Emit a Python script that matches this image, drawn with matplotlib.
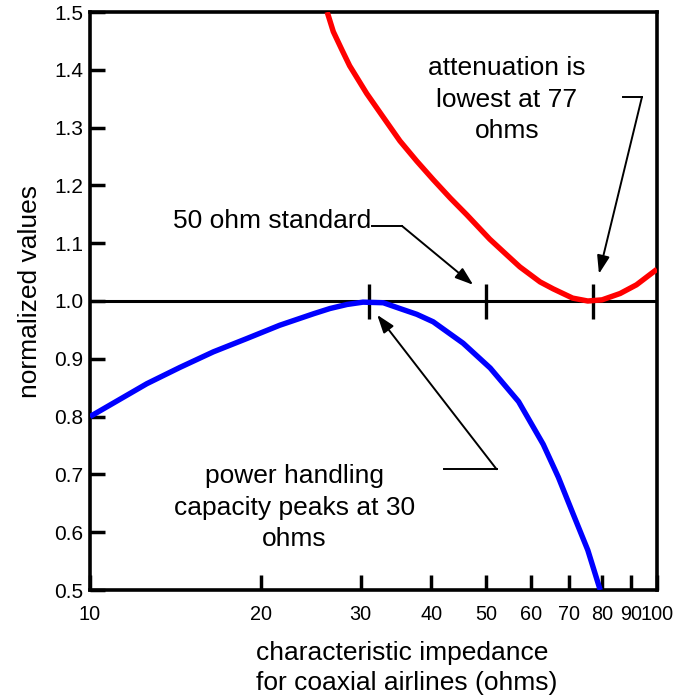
import matplotlib
matplotlib.use("Agg")
import matplotlib.pyplot as plt
from matplotlib.ticker import FixedLocator, NullLocator

plt.rcParams['font.family'] = ['Liberation Sans', 'DejaVu Sans']

# attenuation (red) and power handling (blue), normalized
red_x = [26.2, 26.86, 27.8, 28.7, 30.76, 32.9, 35.2, 37.7, 40.3, 43.2, 46.2, 50.7,
         54.3, 57.3, 62.2, 65.6, 71.0, 75.5, 80.0, 86.1, 92.0, 100.0]
red_y = [1.5, 1.466, 1.435, 1.407, 1.359, 1.318, 1.277, 1.242, 1.210, 1.178, 1.149, 1.107,
         1.080, 1.059, 1.033, 1.021, 1.005, 1.0, 1.002, 1.013, 1.028, 1.055]

blue_x = [10, 12.6, 14.4, 16.5, 18.9, 21.6, 24.8, 26.5, 28.4, 30.3, 32.9, 35.2, 37.7,
          40.3, 45.5, 50.8, 57.0, 63.0, 67.0, 71.1, 75.5, 79.4]
blue_y = [0.8, 0.857, 0.885, 0.912, 0.935, 0.958, 0.978, 0.987, 0.994, 0.998, 0.997, 0.987, 0.977,
          0.964, 0.927, 0.884, 0.826, 0.752, 0.695, 0.632, 0.569, 0.5]

mark_x = [31, 50, 77]
ref_level = 1.0

x_ticks = [10, 20, 30, 40, 50, 60, 70, 80, 90, 100]
y_ticks = [0.5, 0.6, 0.7, 0.8, 0.9, 1.0, 1.1, 1.2, 1.3, 1.4, 1.5]

fig = plt.figure(figsize=(6.79, 6.96), dpi=100)
ax = fig.add_axes([90 / 679, 1 - 590 / 696, 567 / 679, 578 / 696])

ax.axhline(ref_level, color='black', lw=2.2, zorder=2)
ax.vlines(mark_x, ref_level - 0.032, ref_level + 0.03, color='black', lw=2.4, zorder=2)
ax.plot(red_x, red_y, color='#ff0000', lw=3.9, solid_capstyle='butt',
        solid_joinstyle='round', zorder=3)
ax.plot(blue_x, blue_y, color='#0000ff', lw=3.9, solid_capstyle='butt',
        solid_joinstyle='round', zorder=3)

ax.set_xscale('log')
ax.set_xlim(10, 100)
ax.set_ylim(0.5, 1.5)
ax.xaxis.set_major_locator(FixedLocator(x_ticks))
ax.xaxis.set_minor_locator(NullLocator())
ax.set_xticklabels([str(v) for v in x_ticks])
ax.set_yticks(y_ticks)
ax.set_yticklabels([f"{v:.1f}" for v in y_ticks])
ax.tick_params(direction='in', length=11, width=2.5, labelsize=15, top=False, right=False)
ax.tick_params(axis='x', pad=11, labelsize=14.3)
ax.tick_params(axis='y', pad=5)
for s in ax.spines.values():
    s.set_linewidth(2.6)

ax.set_ylabel('normalized values', fontsize=19)
ax.yaxis.set_label_coords(-0.085, 0.517)
ax.set_xlabel('characteristic impedance\nfor coaxial airlines (ohms)', fontsize=19,
              ha='left', multialignment='left', linespacing=1.3)
ax.xaxis.set_label_coords(0.293, -0.088)

arrow = dict(arrowstyle='-|>,head_length=1.1,head_width=0.38', mutation_scale=10,
             color='black', lw=1.4, shrinkA=0, shrinkB=0)

# attenuation note
ax.text(0.735, 0.924, 'attenuation is\nlowest at 77\nohms', transform=ax.transAxes,
        ha='center', va='top', multialignment='center', fontsize=19, linespacing=1.4)
ax.plot([0.940, 0.9735], [0.853, 0.853], color='black', lw=1.4, transform=ax.transAxes)
ax.annotate('', xy=(79.0, 1.047), xytext=(0.9735, 0.853), textcoords='axes fraction',
            arrowprops=arrow)

# 50 ohm note
ax.text(0.1464, 0.626, '50 ohm standard', transform=ax.transAxes,
        ha='left', va='baseline', fontsize=19)
ax.plot([0.497, 0.550], [0.630, 0.630], color='black', lw=1.4, transform=ax.transAxes)
ax.annotate('', xy=(47.4, 1.028), xytext=(0.550, 0.630), textcoords='axes fraction',
            arrowprops=arrow)

# power handling note
ax.text(0.36, 0.218, 'power handling\ncapacity peaks at 30\nohms', transform=ax.transAxes,
        ha='center', va='top', multialignment='center', fontsize=19, linespacing=1.4)
ax.plot([0.624, 0.717], [0.209, 0.209], color='black', lw=1.4, transform=ax.transAxes)
ax.annotate('', xy=(32.1, 0.976), xytext=(0.717, 0.209), textcoords='axes fraction',
            arrowprops=arrow)

fig.savefig('out.png', dpi=100)
